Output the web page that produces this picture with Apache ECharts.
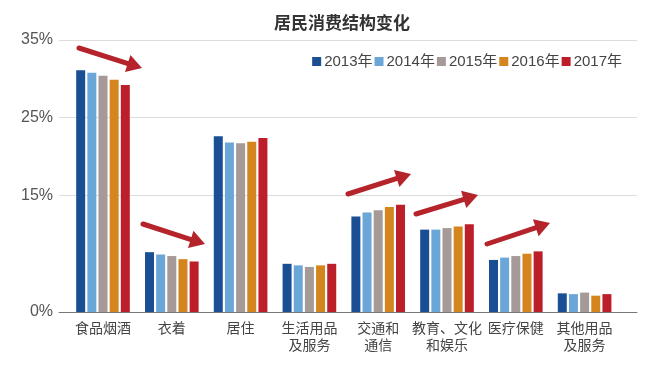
<!DOCTYPE html>
<html><head><meta charset="utf-8">
<script src="https://cdn.jsdelivr.net/npm/echarts@6/dist/echarts.min.js"></script>
<style>html,body{margin:0;padding:0;background:#fff;}#c{width:652px;height:374px;}</style>
</head><body><div id="c"></div>
<script>
const title = '居民消费结构变化';
const categories = ['食品烟酒','衣着','居住','生活用品\n及服务','交通和\n通信','教育、文化\n和娱乐','医疗保健','其他用品\n及服务'];
const years = ['2013年','2014年','2015年','2016年','2017年'];
const s2013 = [31.1, 7.7, 22.6, 6.2, 12.3, 10.6, 6.7, 2.4];
const s2014 = [30.8, 7.4, 21.8, 6.0, 12.8, 10.6, 7.0, 2.3];
const s2015 = [30.4, 7.2, 21.7, 5.8, 13.1, 10.8, 7.2, 2.5];
const s2016 = [29.9, 6.8, 21.9, 6.0, 13.5, 11.0, 7.5, 2.1];
const s2017 = [29.2, 6.5, 22.4, 6.2, 13.8, 11.3, 7.8, 2.3];
const yTickLabels = [0, 15, 25, 35];
const colors = ['#1b4f93','#6aa6d8','#a59a98','#d4851e','#bc1f2a'];

const chart = echarts.init(document.getElementById('c'));
const seriesData = [s2013, s2014, s2015, s2016, s2017];
const font = '"Noto Sans CJK SC", "Noto Sans", sans-serif';
const numFont = '"Liberation Sans", "Noto Sans CJK SC", sans-serif';
const gridColors = [];
for (let v = 0; v <= 35; v += 5) gridColors.push(yTickLabels.includes(v) && v > 0 ? '#dcdcdc' : 'rgba(0,0,0,0)');

const arrowColor = '#b5232b';
function arrow(x1, y1, x2, y2) {
  const ang = Math.atan2(y2 - y1, x2 - x1);
  const hl = 15, hw = 9;
  const bx = x2 - hl * Math.cos(ang), by = y2 - hl * Math.sin(ang);
  const px = -Math.sin(ang), py = Math.cos(ang);
  return [
    { type: 'line', shape: { x1: x1, y1: y1, x2: bx + 2 * Math.cos(ang), y2: by + 2 * Math.sin(ang) },
      style: { stroke: arrowColor, lineWidth: 5, lineCap: 'round' }, z: 10 },
    { type: 'polygon', shape: { points: [[x2, y2], [bx + px * hw, by + py * hw], [bx - px * hw, by - py * hw]] },
      style: { fill: arrowColor }, z: 10 }
  ];
}

chart.setOption({
  backgroundColor: '#fff',
  animation: false,
  title: { text: title, left: 337, top: 9, textAlign: 'center',
    textStyle: { fontFamily: font, fontSize: 17, fontWeight: 'bold', color: '#333' } },
  legend: { data: years, right: 25, top: 49, itemWidth: 9, itemHeight: 9, itemGap: 2,
    icon: 'rect', textStyle: { fontFamily: numFont, fontSize: 15, color: '#444', padding: [0,0,0,-2] } },
  grid: [
    { left: 59, right: 15, top: 40, bottom: 62 },
    { left: 68.6, right: 33, top: 40, bottom: 62 }
  ],
  xAxis: [
    { type: 'value', gridIndex: 0, min: 0, max: 1, show: true,
      axisLine: { show: true, onZero: false, lineStyle: { color: '#777', width: 1 } },
      axisTick: { show: false }, axisLabel: { show: false }, splitLine: { show: false } },
    { type: 'category', gridIndex: 1, data: categories,
      axisLine: { show: false }, axisTick: { show: false },
      axisLabel: { fontFamily: font, fontSize: 14, color: '#444', margin: 7, lineHeight: 17, interval: 0 } }
  ],
  yAxis: [
    { type: 'value', gridIndex: 0, min: 0, max: 35, interval: 5,
      axisLine: { show: false }, axisTick: { show: false },
      axisLabel: { fontFamily: numFont, fontSize: 16, color: '#555', margin: 6,
        formatter: v => yTickLabels.includes(v) ? v + '%' : '' },
      splitLine: { show: true, lineStyle: { color: gridColors, width: 1 } } },
    { type: 'value', gridIndex: 1, min: 0, max: 35, interval: 5, show: false,
      splitLine: { show: false } }
  ],
  series: seriesData.map((d, i) => ({
    name: years[i], type: 'bar', xAxisIndex: 1, yAxisIndex: 1, data: d,
    barWidth: 9, barGap: '24%', itemStyle: { color: colors[i] }
  })),
  graphic: [].concat(
    arrow(79, 48, 142, 68),
    arrow(143, 224, 205, 244),
    arrow(348, 194, 411, 174),
    arrow(416, 214, 478, 195),
    arrow(487, 244, 550, 223)
  )
});
</script></body></html>
